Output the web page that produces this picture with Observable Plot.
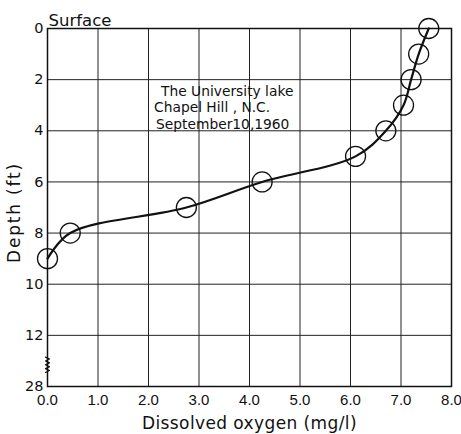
<!DOCTYPE html>
<html><head><meta charset="utf-8">
<script src="https://cdn.jsdelivr.net/npm/d3@7"></script>
<script src="https://cdn.jsdelivr.net/npm/@observablehq/plot@0.6"></script>
<style>body{margin:0;background:#fff}</style>
</head><body><div id="chart"></div>
<script>
const depth = [0, 1, 2, 3, 4, 5, 6, 7, 8, 9];
const oxygen = [7.55, 7.35, 7.2, 7.05, 6.7, 6.1, 4.25, 2.75, 0.45, 0.0];
const xTicks = [0, 1, 2, 3, 4, 5, 6, 7, 8];
const yTicks = [0, 2, 4, 6, 8, 10, 12, 14];
const yTickLabels = ["0", "2", "4", "6", "8", "10", "12", "28"];
const yGrid = [2, 4, 6, 8, 10, 12];
const annotation = ["The University lake", "Chapel Hill , N.C.", "September10,1960"];

const data = depth.map((d, i) => ({depth: d, oxygen: oxygen[i]}));
// axis-break zigzag between 12 and 28 (position 12.85–13.45 on the compressed scale)
const zig = d3.range(0, 9).map(i => ({x: (i % 2 ? 0.04 : -0.04), y: 12.85 + i * 0.075}));
const noteLines = annotation.map((t, i) => ({t, y: 2.45 + i * 0.65, dx: [5, -2, 0][i]}));

const font = "'DejaVu Sans', sans-serif";
const chart = Plot.plot({
  width: 461, height: 434,
  marginLeft: 47, marginRight: 10, marginTop: 28, marginBottom: 48,
  style: {fontFamily: font, background: "#fff", color: "#111"},
  x: {domain: [0, 8]},
  y: {domain: [0, 14], reverse: true},
  marks: [
    Plot.gridX(xTicks, {stroke: "#222", strokeOpacity: 1, strokeWidth: 1}),
    Plot.gridY(yGrid, {stroke: "#222", strokeOpacity: 1, strokeWidth: 1}),
    Plot.frame({stroke: "#111", strokeWidth: 1.5}),
    Plot.axisX(xTicks, {tickSize: 0, tickPadding: 8, fontSize: 15, fontFamily: "'Liberation Sans', sans-serif", tickFormat: d => d.toFixed(1), label: null}),
    Plot.axisY(yTicks, {tickSize: 0, tickPadding: 4, fontSize: 14.5, tickFormat: (d, i) => yTickLabels[i], label: null}),
    Plot.line(zig, {x: "x", y: "y", stroke: "#111", strokeWidth: 1.2}),
    Plot.line(data, {x: "oxygen", y: "depth", curve: "catmull-rom", stroke: "#111", strokeWidth: 2.2}),
    Plot.dot(data, {x: "oxygen", y: "depth", r: 10, stroke: "#111", fill: "none", strokeWidth: 1.3}),
    Plot.text(["Surface"], {x: 0, y: 0, dx: 1, dy: -8, textAnchor: "start", fontSize: 16.5, fill: "#111"}),
    ...noteLines.map(n => Plot.text([n.t], {x: 2.15, y: n.y, dx: n.dx, textAnchor: "start", fontSize: 13.8, fill: "#111"})),
    Plot.text(["Depth (ft)"], {frameAnchor: "left", textAnchor: "middle", dx: -33, dy: 5, rotate: -90, fontSize: 17, fill: "#111"}),
    Plot.text(["Dissolved oxygen (mg/l)"], {frameAnchor: "bottom", lineAnchor: "bottom", dy: 42, fontSize: 17, fill: "#111"})
  ]
});
d3.select(chart).selectAll("text").each(function() {
  const t = this.textContent;
  if (t === "Depth (ft)") this.style.letterSpacing = "1.8px";
  if (t === "Dissolved oxygen (mg/l)") this.style.letterSpacing = "0.4px";
});
document.getElementById("chart").append(chart);
</script>
</body></html>
